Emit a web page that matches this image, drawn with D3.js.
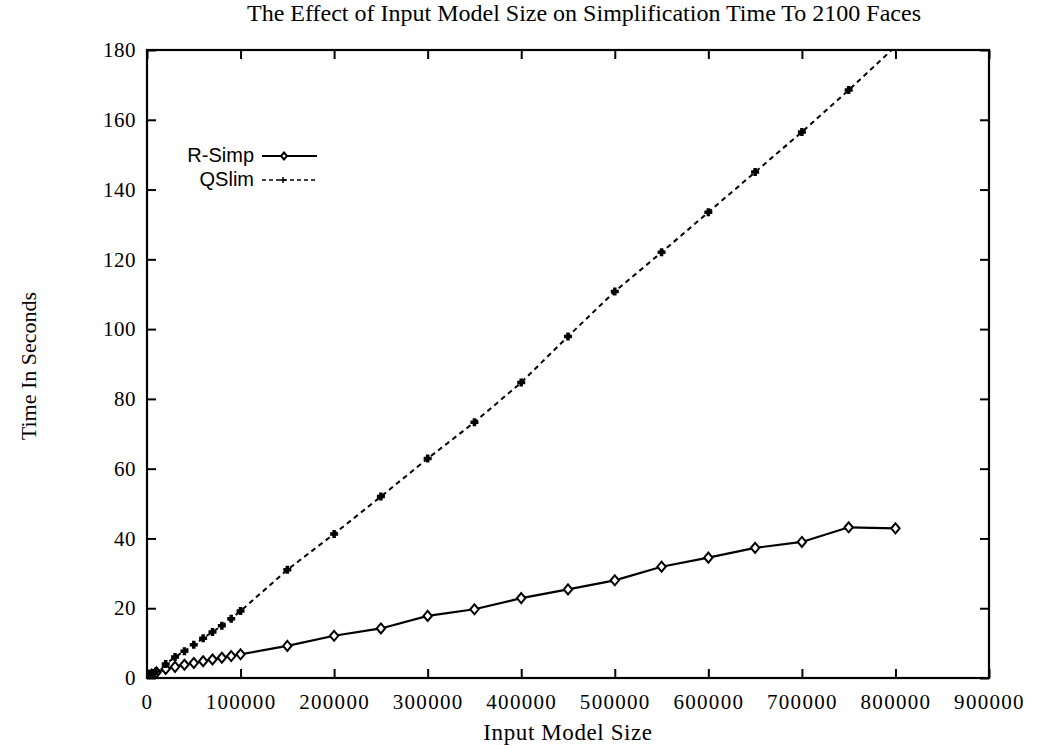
<!DOCTYPE html>
<html>
<head>
<meta charset="utf-8">
<script src="https://cdn.jsdelivr.net/npm/d3@7"></script>
<style>
  body { margin: 0; background: #fff; }
  text { font-family: "Liberation Serif", "DejaVu Serif", serif; fill: #000; }
</style>
</head>
<body>
<div id="chart"></div>
<script>
// model sizes (faces) and times in seconds
const rsimpSize = [0, 2500, 5000, 10000, 20000, 30000, 40000, 50000, 60000, 70000, 80000, 90000, 100000,
    150000, 200000, 250000, 300000, 350000, 400000, 450000, 500000, 550000, 600000, 650000, 700000, 750000, 800000];
const rsimpTime = [0.3, 0.6, 1.0, 1.6, 2.6, 3.2, 3.8, 4.3, 4.8, 5.3, 5.8, 6.3, 6.8,
    9.2, 12.1, 14.2, 17.8, 19.7, 22.9, 25.4, 28.0, 31.9, 34.5, 37.3, 39.0, 43.2, 42.9];

const qslimSize = [0, 2500, 5000, 10000, 20000, 30000, 40000, 50000, 60000, 70000, 80000, 90000, 100000,
    150000, 200000, 250000, 300000, 350000, 400000, 450000, 500000, 550000, 600000, 650000, 700000, 750000, 800000];
const qslimTime = [0.4, 0.8, 1.2, 2.0, 4.0, 6.0, 7.7, 9.5, 11.4, 13.2, 15.0, 17.0, 19.2,
    31.0, 41.3, 52.0, 62.9, 73.3, 84.7, 97.9, 110.8, 122.0, 133.5, 145.0, 156.5, 168.5, 181.0];

const xTicks = [0, 100000, 200000, 300000, 400000, 500000, 600000, 700000, 800000, 900000];
const yTicks = [0, 20, 40, 60, 80, 100, 120, 140, 160, 180];

const title = "The Effect of Input Model Size on Simplification Time To 2100 Faces";
const xLabel = "Input Model Size";
const yLabel = "Time In Seconds";

const W = 1038, H = 745;
const margin = { top: 50, right: 49, bottom: 67, left: 147 };
const w = W - margin.left - margin.right;
const h = H - margin.top - margin.bottom;

const svg = d3.select("#chart").append("svg")
    .attr("width", W)
    .attr("height", H);

const g = svg.append("g")
    .attr("transform", `translate(${margin.left},${margin.top})`);

const x = d3.scaleLinear().domain([0, 900000]).range([0, w]);
const y = d3.scaleLinear().domain([0, 180]).range([h, 0]);

svg.append("defs").append("clipPath").attr("id", "clip")
    .append("rect").attr("width", w).attr("height", h);

// ticks on all four sides, pointing inward
const tl = 9;
const xa = g.append("g").attr("transform", `translate(0,${h})`)
    .call(d3.axisBottom(x).tickValues(xTicks).tickSize(-tl).tickPadding(tl + 7).tickFormat(d3.format("d")))
    .call(a => a.select(".domain").remove());
g.append("g")
    .call(d3.axisTop(x).tickValues(xTicks).tickSize(-tl).tickFormat(""))
    .call(a => a.select(".domain").remove());
const ya = g.append("g")
    .call(d3.axisLeft(y).tickValues(yTicks).tickSize(-tl).tickPadding(tl + 2))
    .call(a => a.select(".domain").remove());
g.append("g").attr("transform", `translate(${w},0)`)
    .call(d3.axisRight(y).tickValues(yTicks).tickSize(-tl).tickFormat(""))
    .call(a => a.select(".domain").remove());

g.selectAll(".tick line").attr("stroke", "#000").attr("stroke-width", 2);
g.selectAll(".tick text").style("font-family", "'Liberation Serif', serif");
xa.selectAll(".tick text").style("font-size", "21px").style("letter-spacing", "1.3px");
ya.selectAll(".tick text").style("font-size", "21px").style("letter-spacing", "0.5px");

g.append("rect")
    .attr("width", w).attr("height", h)
    .attr("fill", "none").attr("stroke", "#000").attr("stroke-width", 2.2);

const rsimp = rsimpSize.map((s, i) => ({ s: s, t: rsimpTime[i] }));
const qslim = qslimSize.map((s, i) => ({ s: s, t: qslimTime[i] }));

const line = d3.line().x(d => x(d.s)).y(d => y(d.t));

const plot = g.append("g").attr("clip-path", "url(#clip)");

plot.append("path").datum(qslim)
    .attr("d", line)
    .attr("fill", "none").attr("stroke", "#000")
    .attr("stroke-width", 2).attr("stroke-dasharray", "5,4");

plot.append("path").datum(rsimp)
    .attr("d", line)
    .attr("fill", "none").attr("stroke", "#000").attr("stroke-width", 2.2);

const diamond = "M0,-5L4.2,0L0,5L-4.2,0Z";
const plus = "M-4,0H4M0,-4V4";

plot.selectAll(".rpt").data(rsimp).enter().append("path")
    .attr("class", "rpt")
    .attr("transform", d => `translate(${x(d.s)},${y(d.t)})`)
    .attr("d", diamond)
    .attr("fill", "#fff").attr("stroke", "#000").attr("stroke-width", 2);

plot.selectAll(".qpt").data(qslim).enter().append("path")
    .attr("class", "qpt")
    .attr("transform", d => `translate(${x(d.s)},${y(d.t)})`)
    .attr("d", plus)
    .attr("stroke", "#000").attr("stroke-width", 3.5);

// legend
const leg = g.append("g");
leg.append("text").attr("x", 107).attr("y", 112).attr("text-anchor", "end")
    .style("font-size", "20px").style("font-family", "'Liberation Sans', sans-serif").text("R-Simp");
leg.append("line").attr("x1", 115).attr("x2", 170).attr("y1", 106).attr("y2", 106)
    .attr("stroke", "#000").attr("stroke-width", 2);
leg.append("path").attr("transform", "translate(137,106)").attr("d", "M0,-3.5L3,0L0,3.5L-3,0Z")
    .attr("fill", "#fff").attr("stroke", "#000").attr("stroke-width", 2);

leg.append("text").attr("x", 107).attr("y", 136).attr("text-anchor", "end")
    .style("font-size", "20px").style("font-family", "'Liberation Sans', sans-serif").text("QSlim");
leg.append("line").attr("x1", 115).attr("x2", 170).attr("y1", 130).attr("y2", 130)
    .attr("stroke", "#000").attr("stroke-width", 1.5).attr("stroke-dasharray", "4,3");
leg.append("path").attr("transform", "translate(136,130)").attr("d", "M-3,0H3M0,-3V3")
    .attr("stroke", "#000").attr("stroke-width", 1.5);

// titles
svg.append("text").attr("x", 584).attr("y", 21).attr("text-anchor", "middle")
    .style("font-size", "24px").text(title);
svg.append("text").attr("x", 568).attr("y", 740).attr("text-anchor", "middle")
    .style("font-size", "23px").style("letter-spacing", "0.6px").text(xLabel);
svg.append("text").attr("transform", "translate(36,366) rotate(-90)").attr("text-anchor", "middle")
    .style("font-size", "22px").text(yLabel);
</script>
</body>
</html>
